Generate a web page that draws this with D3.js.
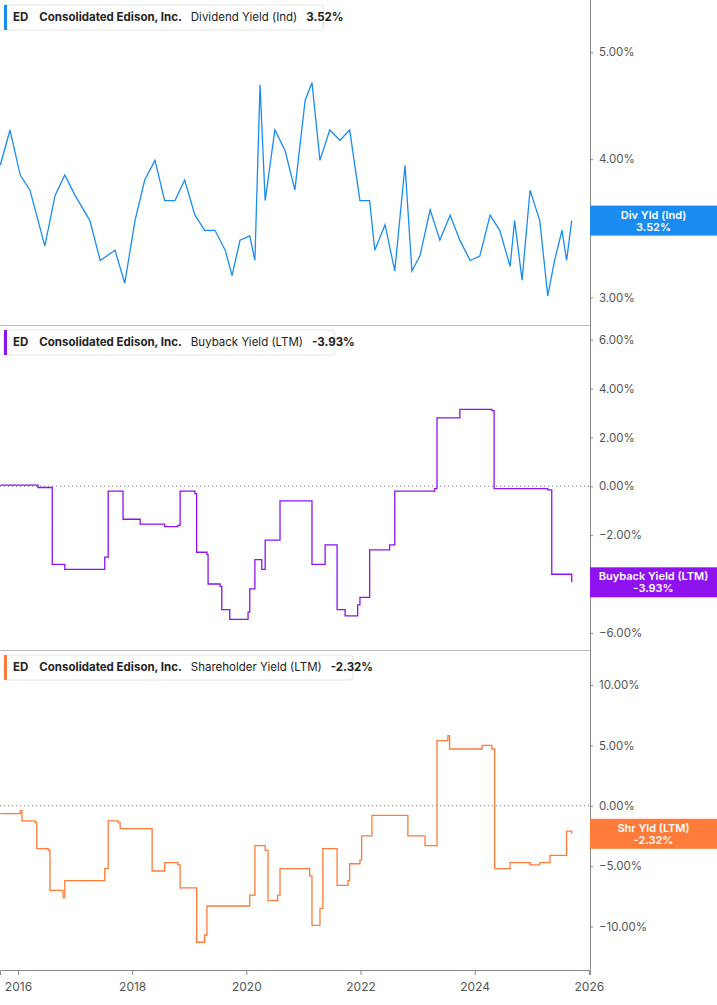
<!DOCTYPE html><html><head><meta charset="utf-8">
<script src="https://cdn.jsdelivr.net/npm/d3@7/dist/d3.min.js"></script>
<style>body{margin:0;background:#fff;font-family:Inter,"Noto Sans",sans-serif}</style></head><body>
<svg id="c" width="717" height="1005"></svg>
<script>
const divDates=[2015.69,2015.86,2016.04,2016.21,2016.47,2016.65,2016.82,2017.0,2017.26,2017.44,2017.70,2017.87,2018.05,2018.22,2018.40,2018.57,2018.75,2018.92,2019.10,2019.27,2019.45,2019.63,2019.75,2019.89,2020.06,2020.15,2020.24,2020.33,2020.50,2020.68,2020.85,2021.03,2021.15,2021.29,2021.46,2021.64,2021.81,2021.99,2022.16,2022.25,2022.43,2022.60,2022.78,2022.90,2023.04,2023.22,2023.39,2023.57,2023.74,2023.92,2024.09,2024.27,2024.44,2024.62,2024.70,2024.83,2024.97,2025.14,2025.28,2025.40,2025.53,2025.61,2025.70];
const divVals=[3.95,4.25,3.87,3.75,3.34,3.71,3.87,3.71,3.52,3.24,3.31,3.09,3.52,3.83,3.99,3.67,3.67,3.83,3.56,3.45,3.45,3.31,3.14,3.38,3.41,3.24,4.67,3.67,4.25,4.07,3.75,4.52,4.69,3.99,4.25,4.16,4.25,3.67,3.67,3.31,3.49,3.17,3.95,3.17,3.27,3.60,3.38,3.56,3.38,3.24,3.27,3.56,3.45,3.20,3.52,3.11,3.75,3.52,3.01,3.24,3.45,3.24,3.52];
const bbDates=[2015.69,2016.35,2016.56,2016.60,2016.82,2017.52,2017.58,2017.82,2017.84,2018.14,2018.57,2018.80,2018.84,2019.10,2019.13,2019.31,2019.33,2019.54,2019.57,2019.71,2020.03,2020.06,2020.15,2020.27,2020.33,2020.55,2020.59,2021.11,2021.15,2021.32,2021.38,2021.55,2021.59,2021.73,2021.95,2021.99,2022.13,2022.16,2022.51,2022.60,2023.30,2023.34,2023.74,2024.30,2024.34,2025.28,2025.35,2025.58,2025.70];
const bbVals=[0.05,-0.05,-0.05,-3.2,-3.4,-2.9,-0.2,-0.2,-1.35,-1.55,-1.65,-1.6,-0.2,-0.3,-2.7,-2.8,-4.0,-4.1,-5.05,-5.45,-5.15,-4.2,-3.0,-3.4,-2.2,-2.2,-0.6,-0.6,-3.2,-3.2,-2.4,-2.4,-5.05,-5.3,-4.85,-4.55,-4.55,-2.6,-2.4,-0.2,-0.1,2.8,3.15,3.1,-0.1,-0.15,-3.6,-3.6,-3.93];
const shDates=[2015.69,2016.04,2016.07,2016.30,2016.33,2016.53,2016.56,2016.79,2016.82,2017.52,2017.58,2017.75,2017.79,2018.31,2018.35,2018.57,2018.80,2018.84,2019.10,2019.13,2019.27,2019.31,2020.06,2020.15,2020.33,2020.38,2020.55,2020.59,2021.11,2021.15,2021.29,2021.34,2021.55,2021.59,2021.78,2021.81,2021.99,2022.02,2022.16,2022.20,2022.78,2022.83,2023.13,2023.34,2023.53,2023.56,2024.09,2024.13,2024.30,2024.35,2024.62,2024.97,2025.14,2025.32,2025.58,2025.61,2025.70];
const shVals=[-0.65,-0.4,-1.25,-1.4,-3.55,-3.7,-7.0,-7.6,-6.2,-5.2,-1.25,-1.4,-1.9,-1.9,-5.4,-4.7,-4.9,-6.8,-6.8,-11.3,-10.7,-8.3,-7.4,-3.3,-3.7,-7.85,-7.4,-5.2,-5.8,-9.9,-8.5,-3.55,-3.55,-6.6,-6.2,-4.8,-4.5,-2.5,-2.5,-0.8,-0.8,-2.5,-3.3,5.4,5.8,4.7,4.7,5.0,4.7,-5.2,-4.7,-4.9,-4.7,-4.1,-4.1,-2.1,-2.32];
const yearTicks=[2016,2018,2020,2022,2024,2026];
const divTicks=[3,4,5], bbTicks=[6,4,2,0,-2,-4,-6], shTicks=[10,5,0,-5,-10];

const svg=d3.select("#c");
const W=590;
const x=d3.scaleLinear().domain([2015.685,2026.02]).range([0,W]);
const panels=[
 {dates:divDates,vals:divVals,y:d3.scaleLog().domain([2.833,5.57]).range([325,0]),ticks:divTicks,color:"#1a8cf0",
  name:"Dividend Yield (Ind)",val:"3.52%",lab:"Div Yld (Ind)",zero:false,top:0,bot:325,curve:d3.curveLinear},
 {dates:bbDates,vals:bbVals,y:d3.scaleLinear().domain([-6.7,6.6]).range([650,325]),ticks:bbTicks,color:"#8f12f0",
  name:"Buyback Yield (LTM)",val:"-3.93%",lab:"Buyback Yield (LTM)",zero:true,top:325,bot:650,curve:d3.curveStepAfter},
 {dates:shDates,vals:shVals,y:d3.scaleLinear().domain([-13.6,12.9]).range([970,650]),ticks:shTicks,color:"#ff7b3a",
  name:"Shareholder Yield (LTM)",val:"-2.32%",lab:"Shr Yld (LTM)",zero:true,top:650,bot:970,curve:d3.curveStepAfter}
];
svg.append("line").attr("x1",W+0.5).attr("x2",W+0.5).attr("y1",0).attr("y2",970).attr("stroke","#888");
panels.forEach((p,i)=>{
  const last=p.vals[p.vals.length-1], ly=p.y(last);
  if(i>0) svg.append("line").attr("x1",0).attr("x2",W).attr("y1",p.top+0.5).attr("y2",p.top+0.5).attr("stroke","#bbb");
  if(p.zero) svg.append("line").attr("x1",0).attr("x2",W).attr("y1",p.y(0)).attr("y2",p.y(0)).attr("stroke","#777").attr("stroke-dasharray","1,3");
  const tv=p.ticks.filter(t=>Math.abs(p.y(t)-ly)>18);
  const ax=svg.append("g").attr("transform",`translate(${W},0)`).call(d3.axisRight(p.y).tickValues(tv).tickSize(3).tickPadding(6).tickFormat(d=>d3.format(".2f")(d)+"%"));
  ax.select(".domain").remove();
  ax.selectAll("line").attr("stroke","#888");
  ax.selectAll("text").attr("fill","#555").style("font-size","11.5px").style("font-family","Inter,sans-serif");
  const pts=p.dates.map((d,k)=>[d,p.vals[k]]);
  svg.append("path").datum(pts).attr("fill","none").attr("stroke",p.color).attr("stroke-width",1.3)
    .attr("d",d3.line().curve(p.curve).x(d=>x(d[0])).y(d=>p.y(d[1])));
  svg.append("rect").attr("x",W).attr("y",ly-15).attr("width",717-W).attr("height",30).attr("fill",p.color);
  svg.append("text").attr("x",(W+717)/2).attr("y",ly-2).attr("text-anchor","middle").attr("fill","#fff").style("font-size","11px").style("font-weight","600").text(p.lab);
  svg.append("text").attr("x",(W+717)/2).attr("y",ly+10).attr("text-anchor","middle").attr("fill","#fff").style("font-size","11px").style("font-weight","600").text(p.val);
  const g=svg.append("g").attr("transform",`translate(4,${p.top+5})`);
  const t=g.append("text").attr("x",9).attr("y",16).style("font-size","11.5px").attr("fill","#222");
  t.append("tspan").style("font-weight","700").text("ED");
  t.append("tspan").attr("dx",11).style("font-weight","700").text("Consolidated Edison, Inc.");
  t.append("tspan").attr("dx",9).text(p.name);
  t.append("tspan").attr("dx",9).style("font-weight","700").text(p.val);
  const w=t.node().getComputedTextLength()+18;
  g.insert("rect","text").attr("width",w).attr("height",25).attr("rx",3).attr("fill","#fff").attr("stroke","#e4e4e4");
  g.insert("rect","text").attr("width",3).attr("height",25).attr("fill",p.color);
});
const xa=svg.append("g").attr("transform","translate(0,970)").call(d3.axisBottom(x).tickValues(yearTicks).tickSize(5).tickFormat(d3.format("d")));
xa.select(".domain").attr("stroke","#888");
xa.selectAll("line").attr("stroke","#888");
xa.selectAll("text").attr("fill","#555").style("font-size","12px").style("font-family","Inter,sans-serif").attr("dy","1.1em");
</script></body></html>
